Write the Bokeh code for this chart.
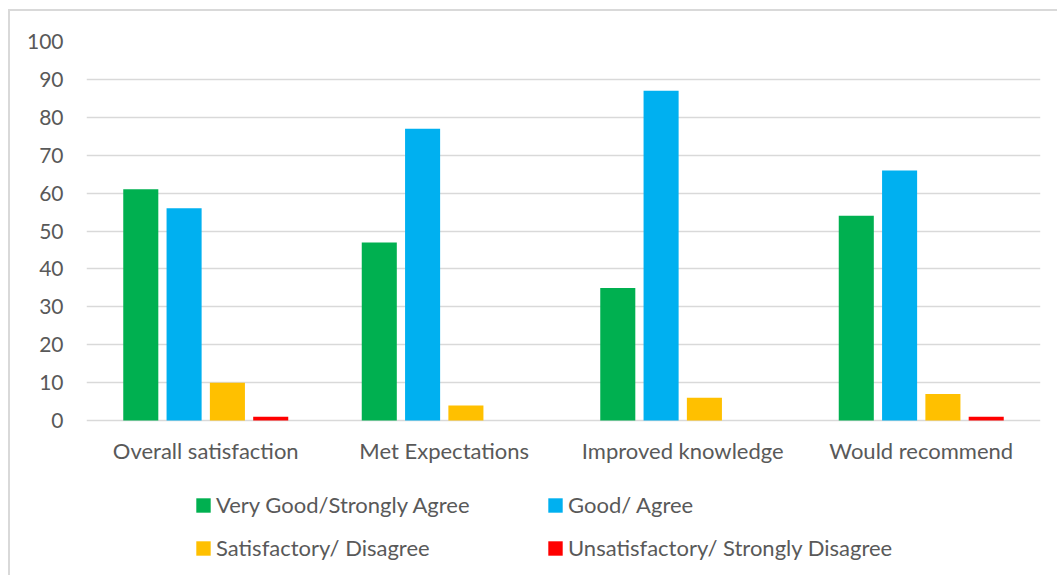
from bokeh.plotting import figure
from bokeh.models import ColumnDataSource, FactorRange, Range1d, FixedTicker, Legend, LegendItem
from bokeh.core.properties import value
from bokeh.transform import dodge
from bokeh.embed import file_html
from bokeh.resources import INLINE

categories = ["Overall satisfaction", "Met Expectations", "Improved knowledge", "Would recommend"]
very_good = [61, 47, 35, 54]
good = [56, 77, 87, 66]
satisfactory = [10, 4, 6, 7]
unsatisfactory = [1, 0, 0, 1]
series_names = ["Very Good/Strongly Agree", "Good/ Agree", "Satisfactory/ Disagree", "Unsatisfactory/ Strongly Disagree"]
y_ticks = [0, 10, 20, 30, 40, 50, 60, 70, 80, 90, 100]

colors = ["#00B050", "#00B0F0", "#FFC000", "#FF0000"]
FONT = "Lato"
TXT = "#595959"

src = ColumnDataSource(dict(cat=categories, vg=very_good, g=good, s=satisfactory, u=unsatisfactory))

# frame spans down to the bottom of the chart area so the legend below the bars is not clipped
p = figure(x_range=FactorRange(*categories), y_range=Range1d(-41.4, 100),
           width=1049, height=566, output_backend="svg", toolbar_location=None,
           x_axis_location=None,
           min_border_left=76, min_border_top=30, min_border_right=19, min_border_bottom=0)
p.margin = (9, 0, 0, 8)
p.styles = {"border-left": "2px solid #d9d9d9", "border-top": "2px solid #d9d9d9"}
p.outline_line_color = None
p.x_range.range_padding = 0

offs = [-0.2724, -0.0908, 0.0908, 0.2724]
fields = ["vg", "g", "s", "u"]
rs = []
for f, o, c in zip(fields, offs, colors):
    r = p.vbar(x=dodge("cat", o, range=p.x_range), top=f, bottom=0, width=0.147, source=src,
               fill_color=c, line_color=None)
    rs.append(r)

# category labels under the zero line
p.text(x="cat", y=0, text="cat", source=src, y_offset=16, text_align="center",
       text_baseline="top", text_font=value(FONT), text_font_size="22px", text_color=TXT)

p.yaxis.ticker = FixedTicker(ticks=y_ticks)
p.yaxis.axis_line_color = None
p.yaxis.major_tick_line_color = None
p.yaxis.major_tick_out = 0
p.yaxis.minor_tick_line_color = None
p.yaxis.major_label_standoff = 23
p.yaxis.major_label_text_font = FONT
p.yaxis.major_label_text_font_size = "21px"
p.yaxis.major_label_text_color = TXT

for g in p.grid:
    if g.dimension == 0:
        g.visible = False
    else:
        g.grid_line_color = "#d9d9d9"
        g.grid_line_width = 1.5
        g.ticker = FixedTicker(ticks=y_ticks)

def mk_legend(items, x):
    lg = Legend(items=items, location=(x, 16), orientation="vertical",
                padding=0, margin=0, spacing=16, border_line_color=None,
                background_fill_alpha=0, glyph_width=18, glyph_height=18,
                label_height=27, label_standoff=4,
                label_text_font=FONT, label_text_font_size="22px", label_text_color=TXT)
    p.add_layout(lg)

mk_legend([LegendItem(label=series_names[0], renderers=[rs[0]]),
           LegendItem(label=series_names[2], renderers=[rs[2]])], 108)
mk_legend([LegendItem(label=series_names[1], renderers=[rs[1]]),
           LegendItem(label=series_names[3], renderers=[rs[3]])], 460)

open("out.html", "w").write(file_html(p, INLINE))
